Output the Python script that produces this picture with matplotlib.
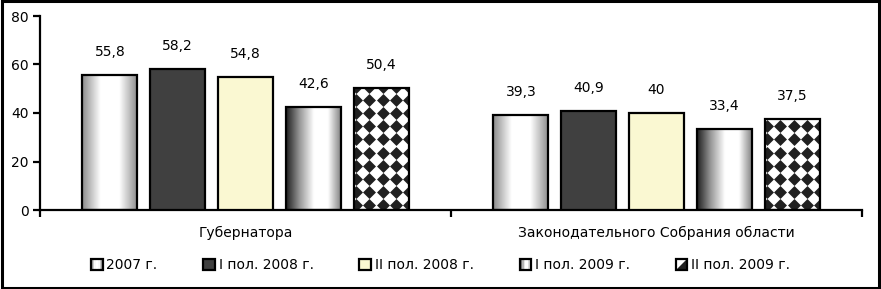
import numpy as np
import matplotlib
matplotlib.use("Agg")
import matplotlib.pyplot as plt
from matplotlib.patches import Rectangle, Polygon
from matplotlib.legend_handler import HandlerBase
from matplotlib.colors import LinearSegmentedColormap

categories = ["Губернатора", "Законодательного Собрания области"]
series = ["2007 г.", "I пол. 2008 г.", "II пол. 2008 г.", "I пол. 2009 г.", "II пол. 2009 г."]
values = {
    "2007 г.": [55.8, 39.3],
    "I пол. 2008 г.": [58.2, 40.9],
    "II пол. 2008 г.": [54.8, 40.0],
    "I пол. 2009 г.": [42.6, 33.4],
    "II пол. 2009 г.": [50.4, 37.5],
}
labels = {
    "2007 г.": ["55,8", "39,3"],
    "I пол. 2008 г.": ["58,2", "40,9"],
    "II пол. 2008 г.": ["54,8", "40"],
    "I пол. 2009 г.": ["42,6", "33,4"],
    "II пол. 2009 г.": ["50,4", "37,5"],
}
yticks = [0, 20, 40, 60, 80]

FONT = ["Liberation Sans Narrow", "DejaVu Sans Condensed", "DejaVu Sans"]
plt.rcParams["font.family"] = FONT
plt.rcParams["font.size"] = 10

grad2007 = LinearSegmentedColormap.from_list("g1", ["#8a8a8a", "#ffffff", "#ffffff", "#8a8a8a"])
grad2009 = LinearSegmentedColormap.from_list("g2", ["#1e1e1e", "#9a9a9a", "#ffffff", "#ffffff", "#7a7a7a"])
styles = {
    "2007 г.": ("grad", grad2007),
    "I пол. 2008 г.": ("solid", "#404040"),
    "II пол. 2008 г.": ("solid", "#faf8d2"),
    "I пол. 2009 г.": ("grad", grad2009),
    "II пол. 2009 г.": ("diamond", None),
}

W, H = 881, 289
fig = plt.figure(figsize=(W / 100, H / 100), dpi=100)
ax = fig.add_axes([40 / W, 1 - 210 / H, (862 - 40) / W, (210 - 16) / H])
ax.set_xlim(0, 2)
ax.set_ylim(0, 80)

pitch = 0.165
bw = 0.134
xc = np.arange(len(categories)) + 0.5
px_per_x = (862 - 40) / 2
px_per_y = (210 - 16) / 80

for i, s in enumerate(series):
    kind, col = styles[s]
    for j, v in enumerate(values[s]):
        x0 = xc[j] + (i - 2) * pitch - bw / 2
        if kind == "solid":
            ax.bar(x0, v, width=bw, align="edge", color=col, edgecolor="black", linewidth=1.6, zorder=3)
        else:
            if kind == "grad":
                img = np.linspace(0, 1, 256).reshape(1, -1)
                ax.imshow(img, cmap=col, extent=[x0, x0 + bw, 0, v], aspect="auto", zorder=2,
                          interpolation="bilinear")
            else:
                ax.bar(x0, v, width=bw, align="edge", color="white", edgecolor="none", zorder=2)
                dx = 13.2 / px_per_x
                dy = 13.2 / px_per_y
                gx = np.arange(x0 + dx * 0.2, x0 + bw + dx, dx)
                gy = np.arange(dy * 0.35, v + dy, dy)
                XX, YY = np.meshgrid(gx, gy)
                sc = ax.scatter(XX.ravel(), YY.ravel(), marker="D", s=6.6 ** 2, color="#202020",
                                linewidths=0, zorder=2.5)
                clip = Rectangle((x0, 0), bw, v, transform=ax.transData)
                sc.set_clip_path(clip)
            ax.bar(x0, v, width=bw, align="edge", color="none", edgecolor="black", linewidth=1.6, zorder=3)
        ax.text(x0 + bw / 2, v + 6.5, labels[s][j], ha="center", va="bottom", fontsize=10, zorder=4)

ax.set_xlim(0, 2)
ax.set_ylim(0, 80)
for sp in ["top", "right"]:
    ax.spines[sp].set_visible(False)
for sp in ["left", "bottom"]:
    ax.spines[sp].set_linewidth(1.6)
ax.set_yticks(yticks)
ax.set_yticklabels([str(t) for t in yticks], fontsize=10)
ax.tick_params(axis="y", direction="out", length=5, width=1.6, pad=3)
ax.set_xticks([0, 1, 2])
ax.set_xticklabels([])
ax.tick_params(axis="x", direction="out", length=5, width=1.6)
for j, c in enumerate(categories):
    ax.text(xc[j], -6.5, c, ha="center", va="top", fontsize=10)


class HandlerFancy(HandlerBase):
    def __init__(self, kind, col):
        super().__init__()
        self.kind = kind
        self.col = col

    def create_artists(self, legend, orig_handle, xdescent, ydescent, width, height, fontsize, trans):
        arts = []
        x0, y0 = -xdescent, -ydescent
        if self.kind == "grad":
            n = 8
            for k in range(n):
                c = self.col((k + 0.5) / n)
                r = Rectangle((x0 + k * width / n, y0), width / n, height, facecolor=c,
                              edgecolor="none", transform=trans)
                arts.append(r)
        elif self.kind == "diamond":
            arts.append(Rectangle((x0, y0), width, height, facecolor="white", edgecolor="none", transform=trans))
            arts.append(Polygon([[x0, y0], [x0 + width, y0], [x0 + width, y0 + height]],
                                closed=True, facecolor="#202020", edgecolor="none", transform=trans))
        else:
            arts.append(Rectangle((x0, y0), width, height, facecolor=self.col, edgecolor="none", transform=trans))
        arts.append(Rectangle((x0, y0), width, height, facecolor="none", edgecolor="black",
                              linewidth=1.6, transform=trans))
        return arts


handles = [Rectangle((0, 0), 1, 1) for _ in series]
hmap = {h: HandlerFancy(*styles[s]) for h, s in zip(handles, series)}
fig.legend(handles, series, loc="center", bbox_to_anchor=(0.5, 1 - 265 / H), ncol=5,
           frameon=False, fontsize=10, handlelength=0.85, handleheight=0.85,
           handletextpad=0.25, columnspacing=3.3, handler_map=hmap)

# figure border
fig.patches.append(Rectangle((0.002, 0.003), 0.996, 0.994, transform=fig.transFigure,
                             facecolor="none", edgecolor="black", linewidth=2.2))

fig.savefig("out.png", dpi=100)
